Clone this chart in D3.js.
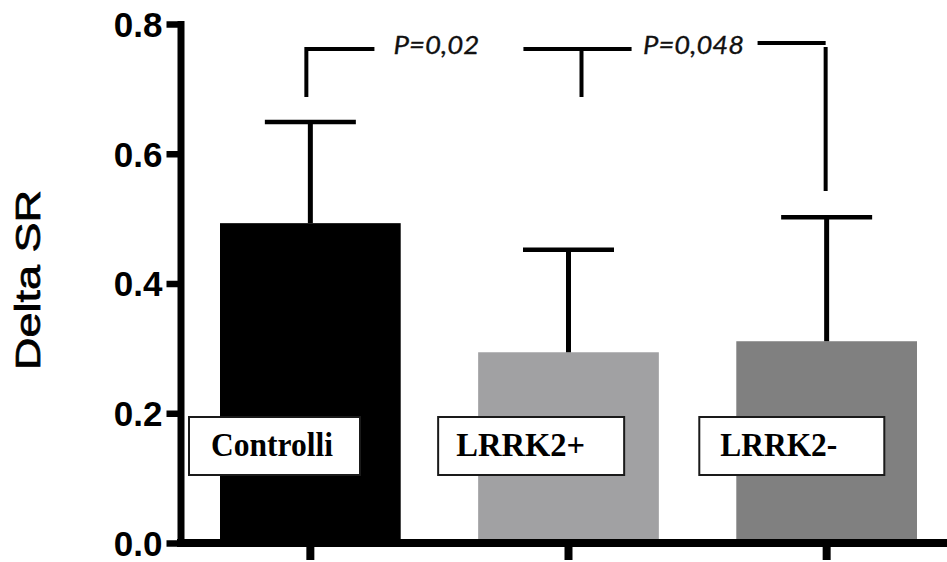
<!DOCTYPE html>
<html>
<head>
<meta charset="utf-8">
<script src="https://cdn.jsdelivr.net/npm/d3@7"></script>
<style>
  body { margin: 0; background: #fff; }
  svg { display: block; }
</style>
</head>
<body>
<div id="chart"></div>
<script>
// data
const categories = ['Controlli', 'LRRK2+', 'LRRK2-'];
const means = [0.493, 0.294, 0.311];
const sds = [0.156, 0.158, 0.191];
const barColors = ['#000000', '#a1a1a3', '#808080'];
const yTicks = [0, 0.2, 0.4, 0.6, 0.8];
const pLabels = ['P=0,02', 'P=0,048'];
const bracketTops = [0.7615, 0.7707];
const bracketLegBottoms = [0.6875, 0.6875, 0.5426];

const width = 947, height = 562;

const svg = d3.select('#chart').append('svg')
  .attr('width', width)
  .attr('height', height);

const x = d3.scaleBand()
  .domain(categories)
  .range([220, 917])
  .paddingInner(0.3)
  .paddingOuter(0);

const y = d3.scaleLinear()
  .domain([0, 0.8])
  .range([543, 24]);

const cx = d => x(d) + x.bandwidth() / 2;

// bars
svg.selectAll('rect.bar')
  .data(categories)
  .enter().append('rect')
  .attr('class', 'bar')
  .attr('x', d => x(d))
  .attr('width', x.bandwidth())
  .attr('y', (d, i) => y(means[i]))
  .attr('height', (d, i) => y(0) - y(means[i]))
  .style('fill', (d, i) => barColors[i]);

// error bars (upper only)
const err = svg.append('g').attr('class', 'errors');
categories.forEach(function (c, i) {
  err.append('line')
    .attr('x1', cx(c)).attr('x2', cx(c))
    .attr('y1', y(means[i])).attr('y2', y(means[i] + sds[i]))
    .style('stroke', '#000').style('stroke-width', 5);
  err.append('line')
    .attr('x1', cx(c) - 45.5).attr('x2', cx(c) + 45.5)
    .attr('y1', y(means[i] + sds[i])).attr('y2', y(means[i] + sds[i]))
    .style('stroke', '#000').style('stroke-width', 4.5);
});

// y axis
const yAxis = svg.append('g')
  .attr('transform', 'translate(180.5,0)')
  .call(d3.axisLeft(y)
    .tickValues(yTicks)
    .tickFormat(d3.format('.1f'))
    .tickSize(14)
    .tickSizeOuter(0)
    .tickPadding(4));

yAxis.select('.domain')
  .style('stroke', '#000')
  .style('stroke-width', 7)
  .style('stroke-linecap', 'square');
yAxis.selectAll('.tick line')
  .attr('x2', 3.5)
  .attr('x1', -14)
  .style('stroke', '#000')
  .style('stroke-width', 6.5);
yAxis.selectAll('.tick text')
  .attr('x', -18)
  .attr('dy', '0.35em')
  .style('font-family', '"Liberation Sans", Arial, sans-serif')
  .style('font-weight', 'bold')
  .style('font-size', '35px')
  .style('fill', '#000');

// x axis
const xAxis = svg.append('g')
  .attr('transform', 'translate(0,' + y(0) + ')')
  .call(d3.axisBottom(x).tickSize(17).tickFormat(''));
xAxis.select('.domain').remove();
xAxis.selectAll('.tick line')
  .style('stroke', '#000')
  .style('stroke-width', 8);
svg.append('line')
  .attr('x1', 177).attr('x2', width)
  .attr('y1', y(0)).attr('y2', y(0))
  .style('stroke', '#000')
  .style('stroke-width', 8);

// y axis title
svg.append('text')
  .attr('transform', 'translate(40,280) rotate(-90)')
  .attr('text-anchor', 'middle')
  .attr('textLength', 180)
  .attr('lengthAdjust', 'spacingAndGlyphs')
  .style('font-family', '"Liberation Sans", Arial, sans-serif')
  .style('font-size', '35px')
  .style('fill', '#000')
  .style('stroke', '#000')
  .style('stroke-width', 0.7)
  .text('Delta SR');

// label boxes over the bars
const boxLayout = [
  { dx: -31, w: 171, tx: 22, tw: 122 },
  { dx: -40, w: 186, tx: 18, tw: 129 },
  { dx: -37, w: 185, tx: 21, tw: 117 }
];
const boxes = svg.selectAll('g.lab')
  .data(categories)
  .enter().append('g')
  .attr('class', 'lab')
  .attr('transform', (d, i) => 'translate(' + (x(d) + boxLayout[i].dx) + ',417)');
boxes.append('rect')
  .attr('width', (d, i) => boxLayout[i].w)
  .attr('height', 58)
  .style('fill', '#fff')
  .style('stroke', '#1a1a1a')
  .style('stroke-width', 2);
boxes.append('text')
  .attr('x', (d, i) => boxLayout[i].tx)
  .attr('y', 39)
  .attr('textLength', (d, i) => boxLayout[i].tw)
  .attr('lengthAdjust', 'spacingAndGlyphs')
  .style('font-family', '"Liberation Serif", "Times New Roman", serif')
  .style('font-weight', 'bold')
  .style('font-size', '34px')
  .style('fill', '#000')
  .text(d => d);

// significance brackets
const br = svg.append('g').attr('class', 'brackets');
const mid01 = (cx(categories[0]) + cx(categories[1])) / 2;
const mid12 = (cx(categories[1]) + cx(categories[2])) / 2;
const segs = [
  // horizontal pieces
  [cx(categories[0]) - 4, y(bracketTops[0]), mid01 - 65, y(bracketTops[0])],
  [mid01 + 84, y(bracketTops[0]), mid12 - 66, y(bracketTops[0])],
  [mid12 + 60, y(bracketTops[1]), cx(categories[2]) - 1, y(bracketTops[1])],
  // legs
  [cx(categories[0]) - 4, y(bracketTops[0]) - 2, cx(categories[0]) - 4, y(bracketLegBottoms[0])],
  [cx(categories[1]) + 13, y(bracketTops[0]), cx(categories[1]) + 13, y(bracketLegBottoms[1])],
  [cx(categories[2]) - 1, y(bracketTops[1]) + 4, cx(categories[2]) - 1, y(bracketLegBottoms[2])]
];
br.selectAll('line')
  .data(segs)
  .enter().append('line')
  .attr('x1', d => d[0]).attr('y1', d => d[1])
  .attr('x2', d => d[2]).attr('y2', d => d[3])
  .style('stroke', '#000')
  .style('stroke-width', 4);

br.selectAll('text')
  .data(pLabels)
  .enter().append('text')
  .attr('x', (d, i) => (i === 0 ? mid01 - 3 : mid12 - 4))
  .attr('y', 54)
  .attr('text-anchor', 'middle')
  .attr('textLength', (d, i) => (i === 0 ? 86 : 101))
  .attr('lengthAdjust', 'spacingAndGlyphs')
  .style('font-family', 'Lato, "Open Sans", sans-serif')
  .style('font-style', 'italic')
  .style('font-size', '25px')
  .style('fill', '#111')
  .style('stroke', '#111')
  .style('stroke-width', 0.3)
  .text(d => d);
</script>
</body>
</html>
